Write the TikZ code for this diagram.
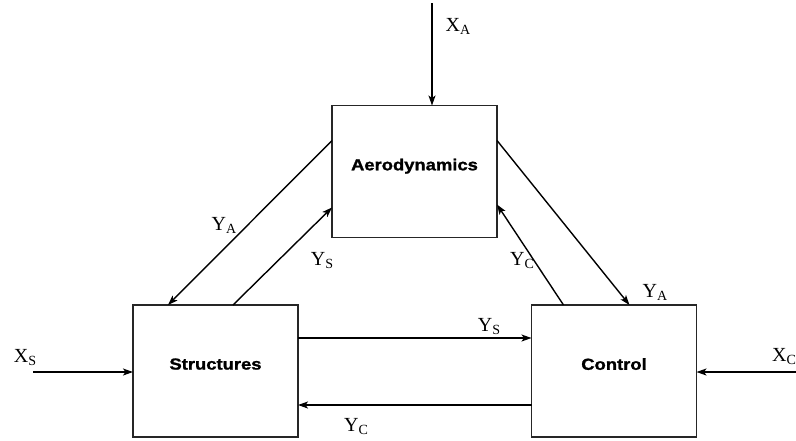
\documentclass[tikz,border=0pt]{standalone}
\usepackage{fontspec}
\setmainfont{Liberation Serif}
\newfontfamily\boxfont[FakeStretch=1.15,FakeBold=1.4]{Liberation Sans Bold}
\usetikzlibrary{arrows.meta}
\newcommand\lbl[2]{#1\raisebox{-3pt}{\fontsize{14}{14}\selectfont #2}}
\newcommand\btext[1]{\raisebox{14pt}{#1}}
\begin{document}
\begin{tikzpicture}[x=1pt,y=-1pt,
  blk/.style={draw=black!85,line width=1.1pt,minimum width=165pt,minimum height=132pt,inner sep=0pt,outer sep=0pt,font=\boxfont\fontsize{16}{16}\selectfont},
  arr/.style={line width=1.4pt,-{Stealth[length=10pt,width=7pt,inset=2.5pt]}},
  lab/.style={inner sep=0pt,font=\fontsize{20}{20}\selectfont}]
\useasboundingbox (0,0) rectangle (796,440);
\node[blk] (aero) at (414.5,171.5) {\btext{Aerodynamics}};
\node[blk] (str) at (215.5,371) {\btext{Structures}};
\node[blk] (ctrl) at (614,371) {\btext{Control}};
\coordinate (xa) at (432,3);
\coordinate (xs) at (33,372);
\coordinate (xc) at (798,372);
\draw[arr] (xa) -- (xa |- aero.north);
\draw[arr] (xs) -- (xs -| str.west);
\draw[arr] (xc) -- (xc -| ctrl.east);
\draw[arr] ([yshift=-35pt]aero.north west) -- ([xshift=35pt]str.north west);
\draw[arr] ([xshift=100pt]str.north west) -- ([yshift=30pt]aero.south west);
\draw[arr] ([xshift=32pt]ctrl.north west) -- ([yshift=33pt]aero.south east);
\draw[arr] ([yshift=-35pt]aero.north east) -- ([xshift=98pt]ctrl.north west);
\draw[arr] ([yshift=-33pt]str.north east) -- ([yshift=-33pt]ctrl.north west);
\draw[arr] ([yshift=32pt]ctrl.south west) -- ([yshift=32pt]str.south east);
\node[lab] (lxa) at (458,26) {\lbl{X}{A}};
\node[lab] (lya1) at (224,225) {\lbl{Y}{A}};
\node[lab] (lys1) at (322,261) {\lbl{Y}{S}};
\node[lab] (lyc1) at (522,261) {\lbl{Y}{C}};
\node[lab] (lya2) at (655,292) {\lbl{Y}{A}};
\node[lab] (lys2) at (489,327) {\lbl{Y}{S}};
\node[lab] (lyc2) at (356,427) {\lbl{Y}{C}};
\node[lab] (lxs) at (25,358) {\lbl{X}{S}};
\node[lab] (lxc) at (784,357) {\lbl{X}{C}};
\end{tikzpicture}
\end{document}
